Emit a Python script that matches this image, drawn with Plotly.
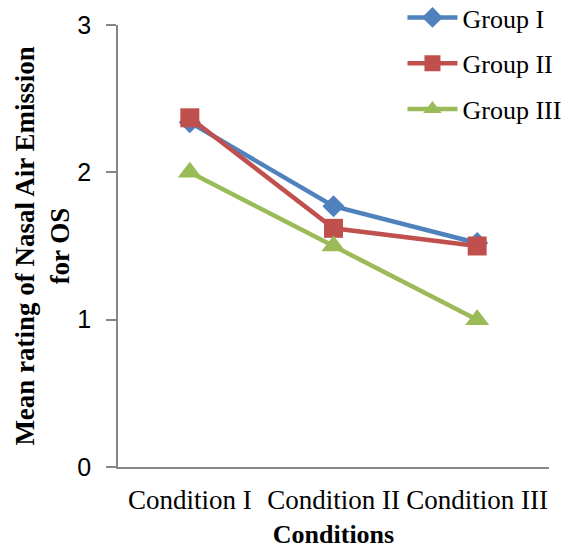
import plotly.graph_objects as go

conditions = ["Condition I", "Condition II", "Condition III"]
group_1 = [2.34, 1.77, 1.52]
group_2 = [2.37, 1.62, 1.50]
group_3 = [2.00, 1.50, 1.00]

series = [
    ("Group I", group_1, "#4F81BD", "diamond", 17),
    ("Group II", group_2, "#C0504D", "square", 19),
    ("Group III", group_3, "#9BBB59", "triangle-up", 21),
]

fig = go.Figure()
for i, (name, vals, color, symbol, size) in enumerate(series):
    fig.add_trace(go.Scatter(
        x=conditions, y=vals, name=name, mode="lines+markers",
        legendgroup=f"g{i}",
        line=dict(color=color, width=4.5),
        marker=dict(symbol=symbol, size=size, color=color),
    ))

serif = "Liberation Serif, Times New Roman, serif"

fig.update_layout(
    width=581, height=549,
    margin=dict(l=118, r=32, t=25, b=82, autoexpand=False),
    plot_bgcolor="white", paper_bgcolor="white",
    showlegend=True,
    legend=dict(
        x=0.66, y=1.07, xanchor="left", yanchor="top",
        font=dict(family=serif, size=26, color="black"),
        tracegroupgap=9, itemwidth=50, bgcolor="rgba(0,0,0,0)",
    ),
    xaxis=dict(
        range=[-0.5, 2.5], showline=True, linecolor="#868686", linewidth=1.5,
        ticks="", showgrid=False, zeroline=False, ticklabelstandoff=8,
        tickfont=dict(family=serif, size=27, color="black"),
        title=dict(text="<b>Conditions</b>", font=dict(family=serif, size=26, color="black"), standoff=13),
    ),
    yaxis=dict(
        range=[0, 3], dtick=1, showline=True, linecolor="#868686", linewidth=1.5,
        ticks="outside", ticklen=10, tickcolor="#868686", tickwidth=1.5,
        showgrid=False, zeroline=False, ticklabelstandoff=10,
        tickfont=dict(family="Liberation Sans, Arial, sans-serif", size=25, color="black"),
        title=dict(text="<b>Mean rating of Nasal Air Emission<br>for OS</b>",
                   font=dict(family=serif, size=27, color="black"), standoff=0),
    ),
)

fig.write_html("out.html")
